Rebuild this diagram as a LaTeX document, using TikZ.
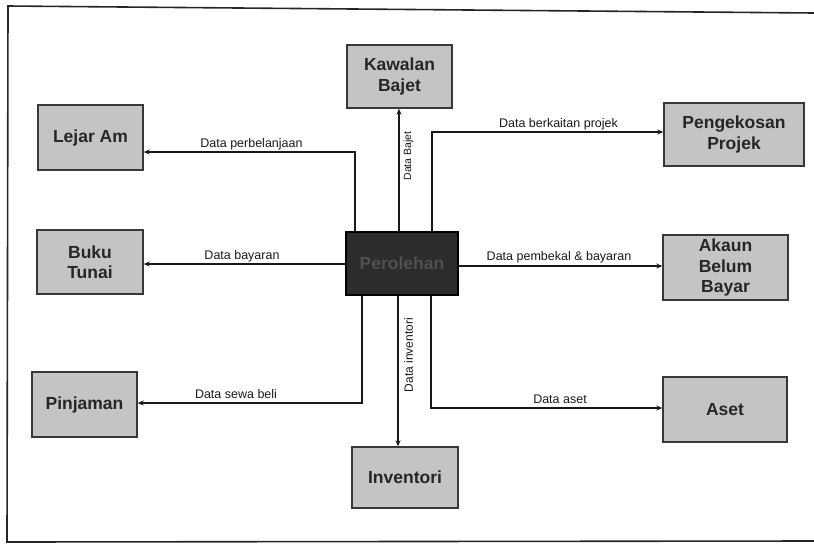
\documentclass[tikz,border=0pt]{standalone}
\usepackage{fontspec}
\setmainfont{Liberation Sans}
\usetikzlibrary{arrows.meta,calc}
\definecolor{boxfill}{HTML}{C4C4C4}
\definecolor{boxline}{HTML}{383838}
\definecolor{darkfill}{HTML}{2C2C2C}
\definecolor{darktext}{HTML}{505050}
\begin{document}
\begin{tikzpicture}[x=1pt,y=-1pt,
  sys/.style={draw=boxline,line width=1.4pt,fill=boxfill,font=\fontsize{17.5}{20.5}\selectfont\bfseries,align=center,inner sep=0pt,text=black!85},
  flow/.style={draw=black!90,line width=1.1pt,-{Stealth[length=6pt,width=5pt]}},
  lbl/.style={font=\fontsize{12.5}{14}\selectfont,inner sep=0pt,anchor=base,text=black!90},
  vlbl/.style={font=\fontsize{12}{14}\selectfont,inner sep=0pt,rotate=90,text=black!90}]
\useasboundingbox (0,0) rectangle (814,547);
\draw[line width=1.6pt,black!85] (814,13) -- (8,6) -- (7,542) -- (814,541);

% boxes
\node[sys,minimum width=105pt,minimum height=63pt] (K) at (399.5,76.5) {Kawalan\\Bajet};
\node[sys,minimum width=105pt,minimum height=65pt] (L) at (90.5,137.5) {Lejar Am};
\node[sys,minimum width=106pt,minimum height=64pt] (B) at (90,262) {Buku\\Tunai};
\node[sys,minimum width=105pt,minimum height=65pt] (J) at (84.5,404.5) {Pinjaman};
\node[sys,minimum width=140pt,minimum height=63pt] (G) at (734,134.5) {Pengekosan\\Projek};
\node[sys,minimum width=125pt,minimum height=65pt] (A) at (725.5,267.5) {Akaun\\Belum\\Bayar};
\node[sys,minimum width=124pt,minimum height=65pt] (S) at (725,409.5) {Aset};
\node[sys,minimum width=106pt,minimum height=61pt] (I) at (405,477.5) {Inventori};
\node[sys,fill=darkfill,draw=black,text=darktext,minimum width=112pt,minimum height=63pt] (P) at (402,263.5) {Perolehan};

% connector positions
\coordinate (x1) at (355,0);
\coordinate (x2) at (399,0);
\coordinate (x3) at (432,0);
\coordinate (x4) at (398,0);
\coordinate (x5) at (362,0);
\coordinate (x6) at (431,0);
\coordinate (y1) at (0,152);
\coordinate (y2) at (0,132);
\coordinate (y3) at (0,264);
\coordinate (y4) at (0,266);
\coordinate (y5) at (0,403);
\coordinate (y6) at (0,408);

% connectors
\draw[flow] (P.north -| x1) |- (L.east |- y1);
\draw[flow] (P.north -| x2) -- (K.south -| x2);
\draw[flow] (P.north -| x3) |- (G.west |- y2);
\draw[flow] (P.west |- y3) -- (B.east |- y3);
\draw[flow] (P.east |- y4) -- (A.west |- y4);
\draw[flow] (P.south -| x4) -- (I.north -| x4);
\draw[flow] (P.south -| x5) |- (J.east |- y5);
\draw[flow] (P.south -| x6) |- (S.west |- y6);

% labels
\node[lbl] (l1) at (251.5,147) {Data perbelanjaan};
\node[vlbl,font=\fontsize{10.5}{12}\selectfont] (l2) at (408.5,156) {Data Bajet};
\node[lbl] (l3) at (558.5,127) {Data berkaitan projek};
\node[lbl] (l4) at (242,259) {Data bayaran};
\node[lbl] (l5) at (559,260.5) {Data pembekal \& bayaran};
\node[vlbl] (l6) at (408.5,355) {Data inventori};
\node[lbl] (l7) at (236,398) {Data sewa beli};
\node[lbl] (l8) at (560,403) {Data aset};
\end{tikzpicture}
\end{document}
